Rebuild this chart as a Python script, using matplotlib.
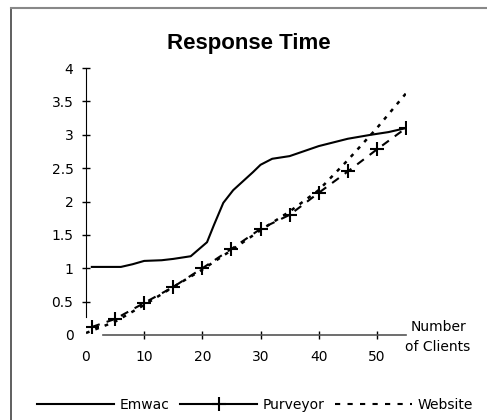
import matplotlib
matplotlib.use("Agg")
import matplotlib.pyplot as plt
from matplotlib.lines import Line2D

# values
emwac_x = [1, 6, 8, 10, 13, 15, 18, 20.8, 22, 23.6, 25.3, 28.7, 30, 32, 35, 40, 45, 49, 52, 55]
emwac_y = [1.02, 1.02, 1.06, 1.11, 1.12, 1.14, 1.18, 1.39, 1.65, 1.98, 2.17, 2.44, 2.55, 2.64, 2.68, 2.83, 2.94, 3.0, 3.04, 3.1]

purveyor_x = [1, 5, 10, 15, 20, 25, 30, 35, 40, 45, 50, 55]
purveyor_y = [0.12, 0.24, 0.48, 0.72, 1.0, 1.29, 1.59, 1.8, 2.13, 2.45, 2.78, 3.1]

website_x = [0, 5, 10, 15, 20, 25, 30, 35, 40, 45, 50, 55]
website_y = [0.03, 0.2, 0.45, 0.72, 0.98, 1.27, 1.57, 1.85, 2.17, 2.62, 3.1, 3.62]

x_ticks = [0, 10, 20, 30, 40, 50]
y_ticks = [0, 0.5, 1, 1.5, 2, 2.5, 3, 3.5, 4]
y_labels = ["0", "0.5", "1", "1.5", "2", "2.5", "3", "3.5", "4"]
series_names = ["Emwac", "Purveyor", "Website"]

plt.rcParams['font.family'] = ['DejaVu Sans']

W, H = 487, 420
fig = plt.figure(figsize=(W / 100, H / 100), dpi=100)
ax = fig.add_axes([86 / W, 1 - 335 / H, (406 - 86) / W, (335 - 68) / H])

purv_dash = (0, (4, 3.5))
ax.plot(emwac_x, emwac_y, color='black', lw=1.5)
ax.plot(purveyor_x, purveyor_y, color='black', lw=1.5, linestyle=purv_dash,
        marker='+', markersize=10, markeredgewidth=1.5)
ax.plot(website_x, website_y, color='black', lw=1.8, linestyle=(0, (1.5, 2.5)))

ax.set_xlim(0, 55)
ax.set_ylim(0, 4)
ax.set_xticks(x_ticks)
ax.set_xticklabels([str(t) for t in x_ticks])
ax.set_yticks(y_ticks)
ax.set_yticklabels(y_labels)

for s in ['top', 'right']:
    ax.spines[s].set_visible(False)
ax.spines['left'].set_bounds(0.27, 4)
ax.spines['bottom'].set_bounds(3, 55)
ax.spines['left'].set_color('black')
ax.spines['bottom'].set_color('#555555')
ax.spines['bottom'].set_linewidth(1.2)
ax.tick_params(axis='both', direction='inout', length=6, width=1, labelsize=10)
ax.tick_params(axis='y', pad=6)
ax.tick_params(axis='x', pad=8)
ax.xaxis.get_major_ticks()[0].tick1line.set_visible(False)
ax.yaxis.get_major_ticks()[0].tick1line.set_visible(False)
ax.patch.set_alpha(0)

fig.text(249 / W, 1 - 44 / H, "Response Time", ha='center', va='center',
         fontsize=16, fontweight='bold', family='Liberation Sans')
fig.text(438 / W, 1 - 337 / H, "Number\nof Clients", ha='center', va='center',
         fontsize=10, linespacing=1.5)

# outer frame (left and top edges visible)
fig.add_artist(Line2D([11 / W, 11 / W], [0, 1 - 8 / H], transform=fig.transFigure,
                      color='#444444', lw=1.2))
fig.add_artist(Line2D([11 / W, 1], [1 - 8 / H, 1 - 8 / H], transform=fig.transFigure,
                      color='#888888', lw=1.5))

handles = [
    Line2D([], [], color='black', lw=1.5),
    Line2D([], [], color='black', lw=1.5, marker='+', markersize=10, markeredgewidth=1.5),
    Line2D([], [], color='black', lw=1.5, linestyle=(0, (2.5, 3.5))),
]
leg = fig.legend(handles, series_names, loc='center', bbox_to_anchor=(255 / W, 1 - 405 / H),
                 ncol=3, frameon=False, fontsize=10, handlelength=5.6, handletextpad=0.4,
                 columnspacing=0.7, borderaxespad=0, numpoints=1)

fig.savefig("out.png", dpi=100)
